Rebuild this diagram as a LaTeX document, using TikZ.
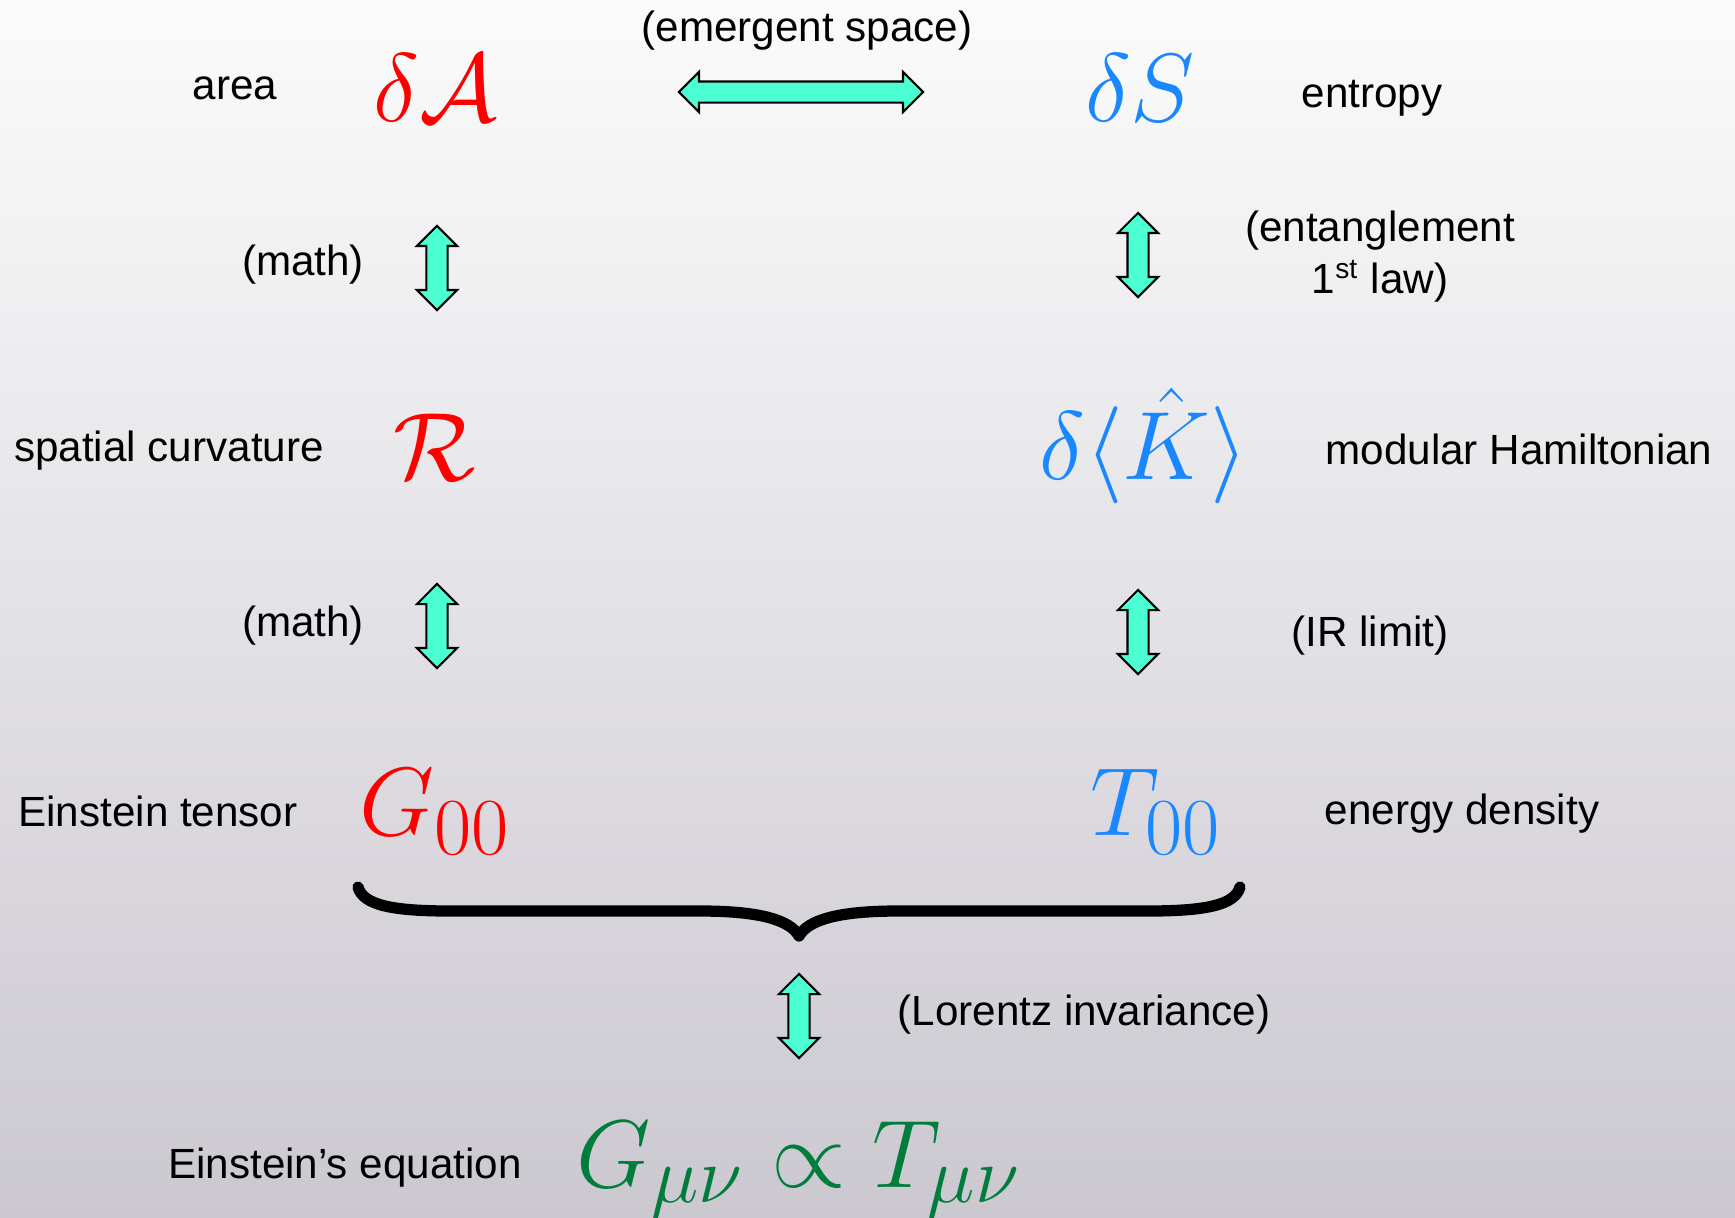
\documentclass[tikz,border=0pt]{standalone}
\usepackage{amsmath}
\usepackage{amssymb}
\usepackage{fontspec}
\setmainfont{Liberation Sans}
\usepackage{tikz}
\usetikzlibrary{shapes.arrows}

\definecolor{gravred}{RGB}{255,0,0}
\definecolor{entblue}{RGB}{25,135,255}
\definecolor{eqgreen}{RGB}{0,125,60}
\definecolor{arrowfill}{RGB}{75,255,210}
\definecolor{bgtop}{RGB}{251,251,251}
\definecolor{bgbot}{RGB}{203,200,208}

\tikzset{
  lbl/.style={font=\fontsize{12}{14.8}\selectfont, text=black, inner sep=0pt},
  sym/.style={font=\fontsize{24.88}{30}\selectfont, inner sep=0pt, scale=#1},
  sym/.default=1.11,
  biarrow/.style={double arrow, draw=black, fill=arrowfill, line width=0.6pt,
    inner xsep=0pt, inner ysep=0.095cm, double arrow head extend=0.095cm,
    double arrow tip angle=90, minimum height=#1},
}

\begin{document}
\begin{tikzpicture}[x=0.01cm, y=-0.01cm]
% background
\shade [top color=bgtop, bottom color=bgbot] (0,0) rectangle (1735,1217);
\useasboundingbox (0,0) rectangle (1735,1217);

% top row: area and entropy
\node (emerg) [lbl] at (807,31) {(emergent space)};
\node (area) [lbl] at (235,88) {area};
\node (dA) [sym, text=gravred] at (435,88) {$\delta\mathcal{A}$};
\node (arrAS) [biarrow=2.44cm] at (801,92) {};
\node (dS) [sym, text=entblue] at (1140,88) {$\delta S$};
\node (entropy) [lbl] at (1372,98) {entropy};

\node (math1) [lbl] at (303,265) {(math)};
\node (arrAR) [biarrow=0.84cm, rotate=90] at (437,268) {};
\node (arrSK) [biarrow=0.84cm, rotate=90] at (1138,255) {};
\node (entlaw) [lbl, align=center] at (1380,257) {(entanglement\\1\textsuperscript{st} law)};

% middle row
\node (curv) [lbl] at (169,451) {spatial curvature};
\node (R) [sym, text=gravred] at (435,447) {$\mathcal{R}$};
\node (dK) [sym, text=entblue] at (1144,446) {$\delta\langle\hat{K}\rangle$};
\node (modham) [lbl] at (1519,449) {modular Hamiltonian};

\node (math2) [lbl] at (303,626) {(math)};
\node (arrRG) [biarrow=0.84cm, rotate=90] at (437,626) {};
\node (arrKT) [biarrow=0.84cm, rotate=90] at (1138,632) {};
\node (irlim) [lbl] at (1370,636) {(IR limit)};

% tensors
\node (eint) [lbl] at (158,811) {Einstein tensor};
\node (G00) [sym, text=gravred] at (435,812) {$G_{00}$};
\node (T00) [sym, text=entblue] at (1156,812) {$T_{00}$};
\node (edens) [lbl] at (1462,814) {energy density};

% brace
\draw [line width=3.2pt, line cap=round, line join=round]
  (358,887) .. controls (363,905) and (392,911) .. (450,911) -- (700,911)
  .. controls (760,911) and (790,920) .. (799,936)
  .. controls (808,920) and (838,911) .. (898,911) -- (1148,911)
  .. controls (1206,911) and (1235,905) .. (1240,887);

\node (arrGE) [biarrow=0.84cm, rotate=90] at (799,1016) {};
\node (lorentz) [lbl] at (1084,1015) {(Lorentz invariance)};

% Einstein's equation
\node (eqlbl) [lbl] at (345,1168) {Einstein’s equation};
\node (eq) [sym=1.10, text=eqgreen] at (799,1170) {$G_{\mu\nu}\propto T_{\mu\nu}$};
\end{tikzpicture}
\end{document}
